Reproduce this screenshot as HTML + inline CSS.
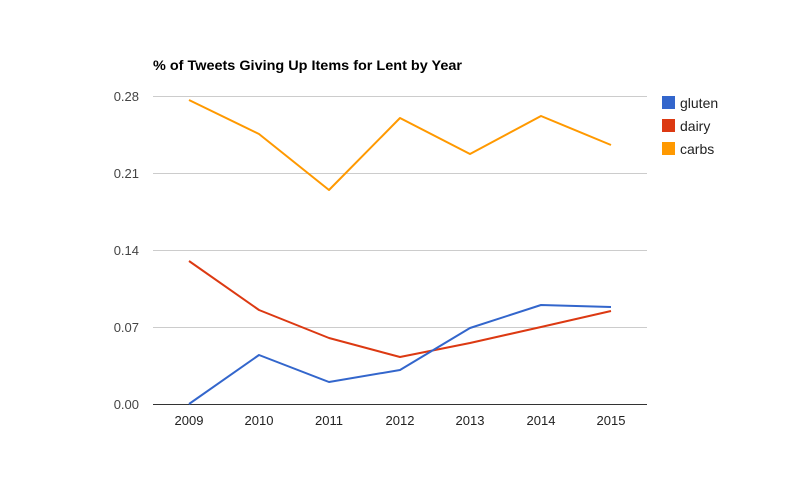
<!DOCTYPE html>
<html><head><style>body{margin:0;background:#fff}svg{display:block}</style></head>
<body>
<svg width="800" height="500" xmlns="http://www.w3.org/2000/svg" font-family="Arial, 'Liberation Sans', sans-serif">
<rect width="800" height="500" fill="#fff"/>
<text x="153" y="70" font-size="14" font-weight="bold" fill="#000" textLength="309" lengthAdjust="spacingAndGlyphs">% of Tweets Giving Up Items for Lent by Year</text>
<g stroke="#cccccc" stroke-width="1">
<line x1="153" y1="96.5" x2="647" y2="96.5"/>
<line x1="153" y1="173.5" x2="647" y2="173.5"/>
<line x1="153" y1="250.5" x2="647" y2="250.5"/>
<line x1="153" y1="327.5" x2="647" y2="327.5"/>
</g>
<line x1="153" y1="404.5" x2="647" y2="404.5" stroke="#333" stroke-width="1"/>
<g font-size="13" fill="#444" text-anchor="end">
<text x="139" y="101">0.28</text>
<text x="139" y="178">0.21</text>
<text x="139" y="255">0.14</text>
<text x="139" y="332">0.07</text>
<text x="139" y="409">0.00</text>
</g>
<g font-size="13" fill="#222" text-anchor="middle">
<text x="189" y="425">2009</text>
<text x="259" y="425">2010</text>
<text x="329" y="425">2011</text>
<text x="400" y="425">2012</text>
<text x="470" y="425">2013</text>
<text x="541" y="425">2014</text>
<text x="611" y="425">2015</text>
</g>
<g fill="none" stroke-width="2" stroke-linejoin="round">
<polyline stroke="#ff9900" points="189,100 259,134 329,190 400,118 470,154 541,116 611,145"/>
<polyline stroke="#dc3912" points="189,261 259,310 329,338 400,357 470,343 541,327 611,311"/>
<polyline stroke="#3366cc" points="189,404 259,355 329,382 400,370 470,328 541,305 611,307"/>
</g>
<rect x="662" y="96" width="13" height="13" fill="#3366cc"/>
<rect x="662" y="119" width="13" height="13" fill="#dc3912"/>
<rect x="662" y="142" width="13" height="13" fill="#ff9900"/>
<g font-size="14" fill="#222">
<text x="680" y="108">gluten</text>
<text x="680" y="131">dairy</text>
<text x="680" y="154">carbs</text>
</g>
</svg>
</body></html>
